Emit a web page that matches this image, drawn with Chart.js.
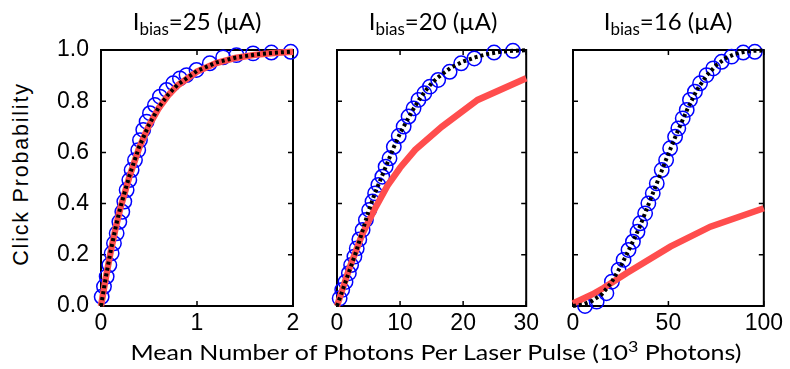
<!DOCTYPE html>
<html>
<head>
<meta charset="utf-8">
<script src="https://cdn.jsdelivr.net/npm/chart.js@4.4.0/dist/chart.umd.min.js"></script>
<style>
  body{margin:0;background:#fff;}
  #wrap{position:relative;width:790px;height:369px;overflow:hidden;font-family:Lato,"Open Sans",sans-serif;color:#000;}
  .cv{position:absolute;top:23px;}
  .ttl{position:absolute;top:7px;width:200px;text-align:center;font-size:24px;line-height:28px;white-space:nowrap;}
  .ttl sub{font-size:17px;vertical-align:-5px;line-height:0;}
  #ytitle{position:absolute;left:20.5px;top:174px;transform:translate(-50%,-50%) rotate(-90deg);
          font-family:"Liberation Sans",Arial,sans-serif;font-size:21.5px;letter-spacing:1.8px;white-space:nowrap;}
  #xtitle{position:absolute;left:436px;top:351px;transform:translate(-50%,-50%) scaleX(1.19);font-size:21px;white-space:nowrap;}
  #xtitle sup{font-size:15px;vertical-align:8px;line-height:0;}
</style>
</head>
<body>
<div id="wrap">
  <canvas id="c1" class="cv" width="257" height="317" style="left:50px"></canvas>
  <canvas id="c2" class="cv" width="220" height="317" style="left:323px"></canvas>
  <canvas id="c3" class="cv" width="228" height="317" style="left:559px"></canvas>
  <div class="ttl" style="left:97px">I<sub>bias</sub>=25 (µA)</div>
  <div class="ttl" style="left:333px">I<sub>bias</sub>=20 (µA)</div>
  <div class="ttl" style="left:568px">I<sub>bias</sub>=16 (µA)</div>
  <div id="ytitle">Click Probability</div>
  <div id="xtitle">Mean Number of Photons Per Laser Pulse (10<sup>3</sup> Photons)</div>
</div>
<script>
// ── DATOS ───────────────────────────────────────────────
const yTicks  = [0, 0.2, 0.4, 0.6, 0.8, 1.0];
const x1Ticks = [0, 1, 2];
const x2Ticks = [0, 10, 20, 30];
const x3Ticks = [0, 50, 100];

// panel 1 (Ibias = 25 uA), x in 10^3 photons
const p1DataX = [0.007,0.031,0.059,0.087,0.111,0.135,0.163,0.191,0.222,0.243,0.267,0.295,0.319,0.354,0.388,0.406,0.440,0.475,0.510,0.562,0.614,0.683,0.752,0.822,0.891,0.995,1.133,1.272,1.411,1.584,1.775,1.976];
const p1DataY = [0.036,0.076,0.115,0.160,0.206,0.245,0.284,0.329,0.368,0.408,0.453,0.492,0.531,0.570,0.609,0.648,0.688,0.720,0.753,0.785,0.818,0.844,0.870,0.889,0.902,0.922,0.948,0.971,0.980,0.987,0.990,0.993];
const p1RedX  = [0,0.05,0.1,0.15,0.2,0.3,0.4,0.5,0.6,0.7,0.8,1.0,1.2,1.4,1.6,1.8,2.0];
const p1RedY  = [0,0.110,0.210,0.300,0.380,0.510,0.620,0.705,0.772,0.823,0.862,0.916,0.949,0.969,0.981,0.988,0.993];
const p1DotX  = [0,0.05,0.1,0.15,0.2,0.3,0.4,0.5,0.6,0.7,0.8,1.0,1.2,1.4,1.6,1.8,2.0];
const p1DotY  = [0,0.112,0.213,0.303,0.383,0.514,0.624,0.708,0.775,0.826,0.865,0.918,0.951,0.970,0.982,0.989,0.994];

// panel 2 (Ibias = 20 uA)
const p2DataX = [0.42,0.83,1.35,1.88,2.24,2.76,3.13,3.54,4.06,4.58,5.10,5.63,6.04,6.56,7.19,7.71,8.33,9.01,9.79,10.57,11.35,12.14,12.92,13.85,14.74,16.04,17.86,19.69,21.77,24.9,27.9];
const p2DataY = [0.030,0.063,0.094,0.128,0.160,0.193,0.225,0.260,0.297,0.336,0.375,0.408,0.440,0.473,0.505,0.544,0.577,0.622,0.664,0.701,0.740,0.772,0.805,0.831,0.857,0.883,0.915,0.948,0.967,0.990,0.997];
const p2RedX  = [0,2,4,6,8,10,12.4,16.6,22.3,30];
const p2RedY  = [0,0.15,0.28,0.38,0.47,0.54,0.61,0.70,0.805,0.89];
const p2DotX  = [0,1,2,3,4,5,6,7,8,9,10,11,12,13,14,15,16,18,20,22,24,26,28,30];
const p2DotY  = [0,0.07,0.14,0.21,0.29,0.37,0.44,0.50,0.56,0.62,0.675,0.72,0.765,0.805,0.84,0.87,0.893,0.93,0.955,0.972,0.985,0.993,0.997,0.999];

// panel 3 (Ibias = 16 uA)
const p3DataX = [6.3,12.4,17.5,20.4,23.9,26.5,29.1,31.4,33.8,35.2,37.8,39.5,41.8,43.9,46.5,48.8,50.9,53.5,55.2,57.5,59.6,61.3,63.9,66.6,70.0,73.5,77.9,83.1,89.2,95.3];
const p3DataY = [0.000,0.017,0.050,0.095,0.141,0.180,0.219,0.251,0.290,0.323,0.362,0.401,0.440,0.479,0.531,0.570,0.616,0.661,0.694,0.733,0.766,0.805,0.837,0.870,0.902,0.928,0.954,0.974,0.990,0.993];
const p3RedX  = [0,10,16,28,51,72,100];
const p3RedY  = [0.010,0.045,0.070,0.128,0.232,0.310,0.382];
const p3DotX  = [0,5,10,15,20,25,30,35,40,45,50,55,60,65,70,75,80,85,90,95,100];
const p3DotY  = [0,0.005,0.02,0.045,0.09,0.155,0.23,0.31,0.405,0.50,0.595,0.685,0.77,0.845,0.90,0.94,0.968,0.985,0.993,0.997,0.998];

// ── ESTILO ──────────────────────────────────────────────
const RED  = '#ff4d4d';
const BLUE = '#0000ff';
const TICK_FONT = { family:'"Liberation Sans", Arial, sans-serif', size:23 };

function pts(xs, ys){ return xs.map((x,i)=>({ x, y:ys[i] })); }

// caja negra + marcas de tick hacia adentro (estilo MATLAB)
const frame = {
  id:'frame',
  beforeDatasetsDraw(chart){
    const { ctx, chartArea:a, scales:{ x, y } } = chart;
    ctx.save();
    ctx.strokeStyle = '#000';
    ctx.lineWidth = 1.5;
    ctx.beginPath();
    x.ticks.forEach(t=>{
      const px = x.getPixelForValue(t.value);
      ctx.moveTo(px, a.bottom); ctx.lineTo(px, a.bottom-5);
      ctx.moveTo(px, a.top);    ctx.lineTo(px, a.top+5);
    });
    y.ticks.forEach(t=>{
      const py = y.getPixelForValue(t.value);
      ctx.moveTo(a.left, py);  ctx.lineTo(a.left+5, py);
      ctx.moveTo(a.right, py); ctx.lineTo(a.right-5, py);
    });
    ctx.stroke();
    ctx.lineWidth = 2;
    ctx.strokeRect(a.left, a.top, a.right-a.left, a.bottom-a.top);
    ctx.restore();
  }
};

function makePanel(id, opt){
  new Chart(document.getElementById(id), {
    type:'line',
    data:{
      datasets:[
        { data:pts(opt.dotX, opt.dotY), borderColor:'#000', borderWidth:4, borderDash:[3,3],
          pointRadius:0, fill:false, tension:0, clip:false },
        { data:pts(opt.redX, opt.redY), borderColor:RED, borderWidth:6.5,
          pointRadius:0, fill:false, tension:0, clip:false },
        { data:pts(opt.dataX, opt.dataY), showLine:false, pointRadius:7.2, pointBorderWidth:1.5,
          pointBorderColor:BLUE, pointBackgroundColor:'rgba(0,0,0,0)', clip:false },
      ]
    },
    options:{
      responsive:false,
      animation:false,
      events:[],
      layout:{ padding:{ top:27, right:opt.rightPad, left:0, bottom:0 } },
      plugins:{ legend:{ display:false }, tooltip:{ enabled:false } },
      scales:{
        x:{
          type:'linear', min:opt.xTicks[0], max:opt.xTicks[opt.xTicks.length-1],
          afterBuildTicks: s=>{ s.ticks = opt.xTicks.map(v=>({ value:v })); },
          afterFit: s=>{ s.height = 34; },
          grid:{ display:false, drawTicks:false },
          border:{ display:false },
          ticks:{ color:'#000', font:TICK_FONT, padding:4, maxRotation:0, autoSkip:false }
        },
        y:{
          type:'linear', min:0, max:1,
          afterBuildTicks: s=>{ s.ticks = yTicks.map(v=>({ value:v })); },
          afterFit: s=>{ s.width = opt.yWidth; },
          grid:{ display:false, drawTicks:false },
          border:{ display:false },
          ticks:{ display:opt.yLabels, color:'#000', font:TICK_FONT, padding:12,
                  callback: v=>Number(v).toFixed(1) }
        }
      }
    },
    plugins:[frame]
  });
}

makePanel('c1', { dataX:p1DataX, dataY:p1DataY, redX:p1RedX, redY:p1RedY, dotX:p1DotX, dotY:p1DotY,
                  xTicks:x1Ticks, yLabels:true,  yWidth:51, rightPad:14 });
makePanel('c2', { dataX:p2DataX, dataY:p2DataY, redX:p2RedX, redY:p2RedY, dotX:p2DotX, dotY:p2DotY,
                  xTicks:x2Ticks, yLabels:false, yWidth:14, rightPad:14 });
makePanel('c3', { dataX:p3DataX, dataY:p3DataY, redX:p3RedX, redY:p3RedY, dotX:p3DotX, dotY:p3DotY,
                  xTicks:x3Ticks, yLabels:false, yWidth:14, rightPad:23 });
</script>
</body>
</html>
